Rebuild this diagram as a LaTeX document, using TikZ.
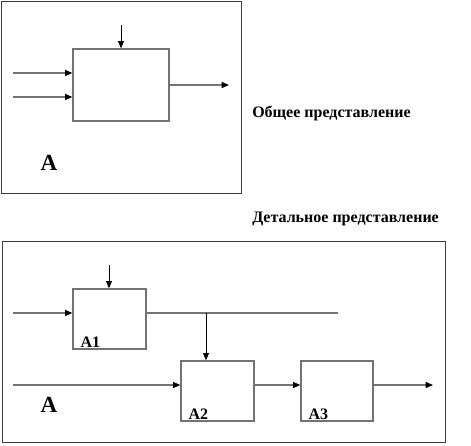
\documentclass[tikz,border=0pt]{standalone}
\usepackage{fontspec}
\setmainfont{Liberation Serif}
\usetikzlibrary{arrows.meta,positioning}
\definecolor{linegray}{RGB}{115,115,115}
\definecolor{framegray}{RGB}{60,60,60}

\tikzset{
  blk/.style={draw=linegray, line width=1pt, inner sep=0pt},
  flow/.style={draw=linegray, line width=1pt, -{Triangle[length=5.5pt,width=4.5pt,color=black]}},
  ctrl/.style={draw=black, line width=0.7pt, -{Triangle[length=5.5pt,width=4.5pt]}},
  lbl/.style={font=\bfseries\large, inner sep=0pt},
  biglbl/.style={font=\bfseries\LARGE, inner sep=0pt}
}

\begin{document}
\begin{tikzpicture}[x=0.75pt, y=-0.75pt]
  \useasboundingbox (0,0) rectangle (471,446);
  % Frames
  \draw[framegray, line width=0.6pt] (1.5,1.5) rectangle (241,193);
  \draw[framegray, line width=0.6pt] (2,241) rectangle (445,442);

  % General view
  \node[blk, minimum width=72pt, minimum height=54pt] (A0) at (121,85) {};
  \coordinate (c0) at (121,25);
  \coordinate (i1) at (13,73);
  \coordinate (i2) at (13,97);
  \coordinate (o0) at (229,85);
  \draw[ctrl] (c0) -- (A0.north);
  \draw[flow] (i1) -- (i1 -| A0.west);
  \draw[flow] (i2) -- (i2 -| A0.west);
  \draw[flow] (A0.east) -- (o0);
  \node[biglbl] (lblA0) at (49,163) {A};
  \node[lbl, anchor=west] (capgen) at (252,113) {Общее представление};

  % Detailed view
  \node[lbl, anchor=west] (capdet) at (252,219) {Детальное представление};
  \node[blk, minimum width=54.75pt, minimum height=45pt] (A1) at (109.5,319) {};
  \node[blk, minimum width=54.75pt, minimum height=45pt] (A2) at (217.5,391) {};
  \node[blk, minimum width=54pt, minimum height=45pt] (A3) at (337,391) {};
  \node[lbl, anchor=south west] (lblA1) at ([xshift=6pt,yshift=1.5pt]A1.south west) {A1};
  \node[lbl, anchor=south west] (lblA2) at ([xshift=6pt,yshift=1.5pt]A2.south west) {A2};
  \node[lbl, anchor=south west] (lblA3) at ([xshift=6pt,yshift=1.5pt]A3.south west) {A3};
  \node[biglbl] (lblA) at (49,405) {A};

  \coordinate (c1) at (109,265);
  \coordinate (in1) at (13,313);
  \coordinate (in2) at (13,385);
  \coordinate (out1) at (338,313);
  \coordinate (br) at (206,313);
  \coordinate (out3) at (433,385);
  \draw[ctrl] (c1) -- (A1.north -| c1);
  \draw[flow] (in1) -- (in1 -| A1.west);
  \draw[linegray, line width=1pt] (in1 -| A1.east) -- (out1);
  \draw[ctrl] (br) -- (br |- A2.north);
  \draw[flow] (in2) -- (in2 -| A2.west);
  \draw[flow] (in2 -| A2.east) -- (in2 -| A3.west);
  \draw[flow] (in2 -| A3.east) -- (out3);
\end{tikzpicture}
\end{document}
